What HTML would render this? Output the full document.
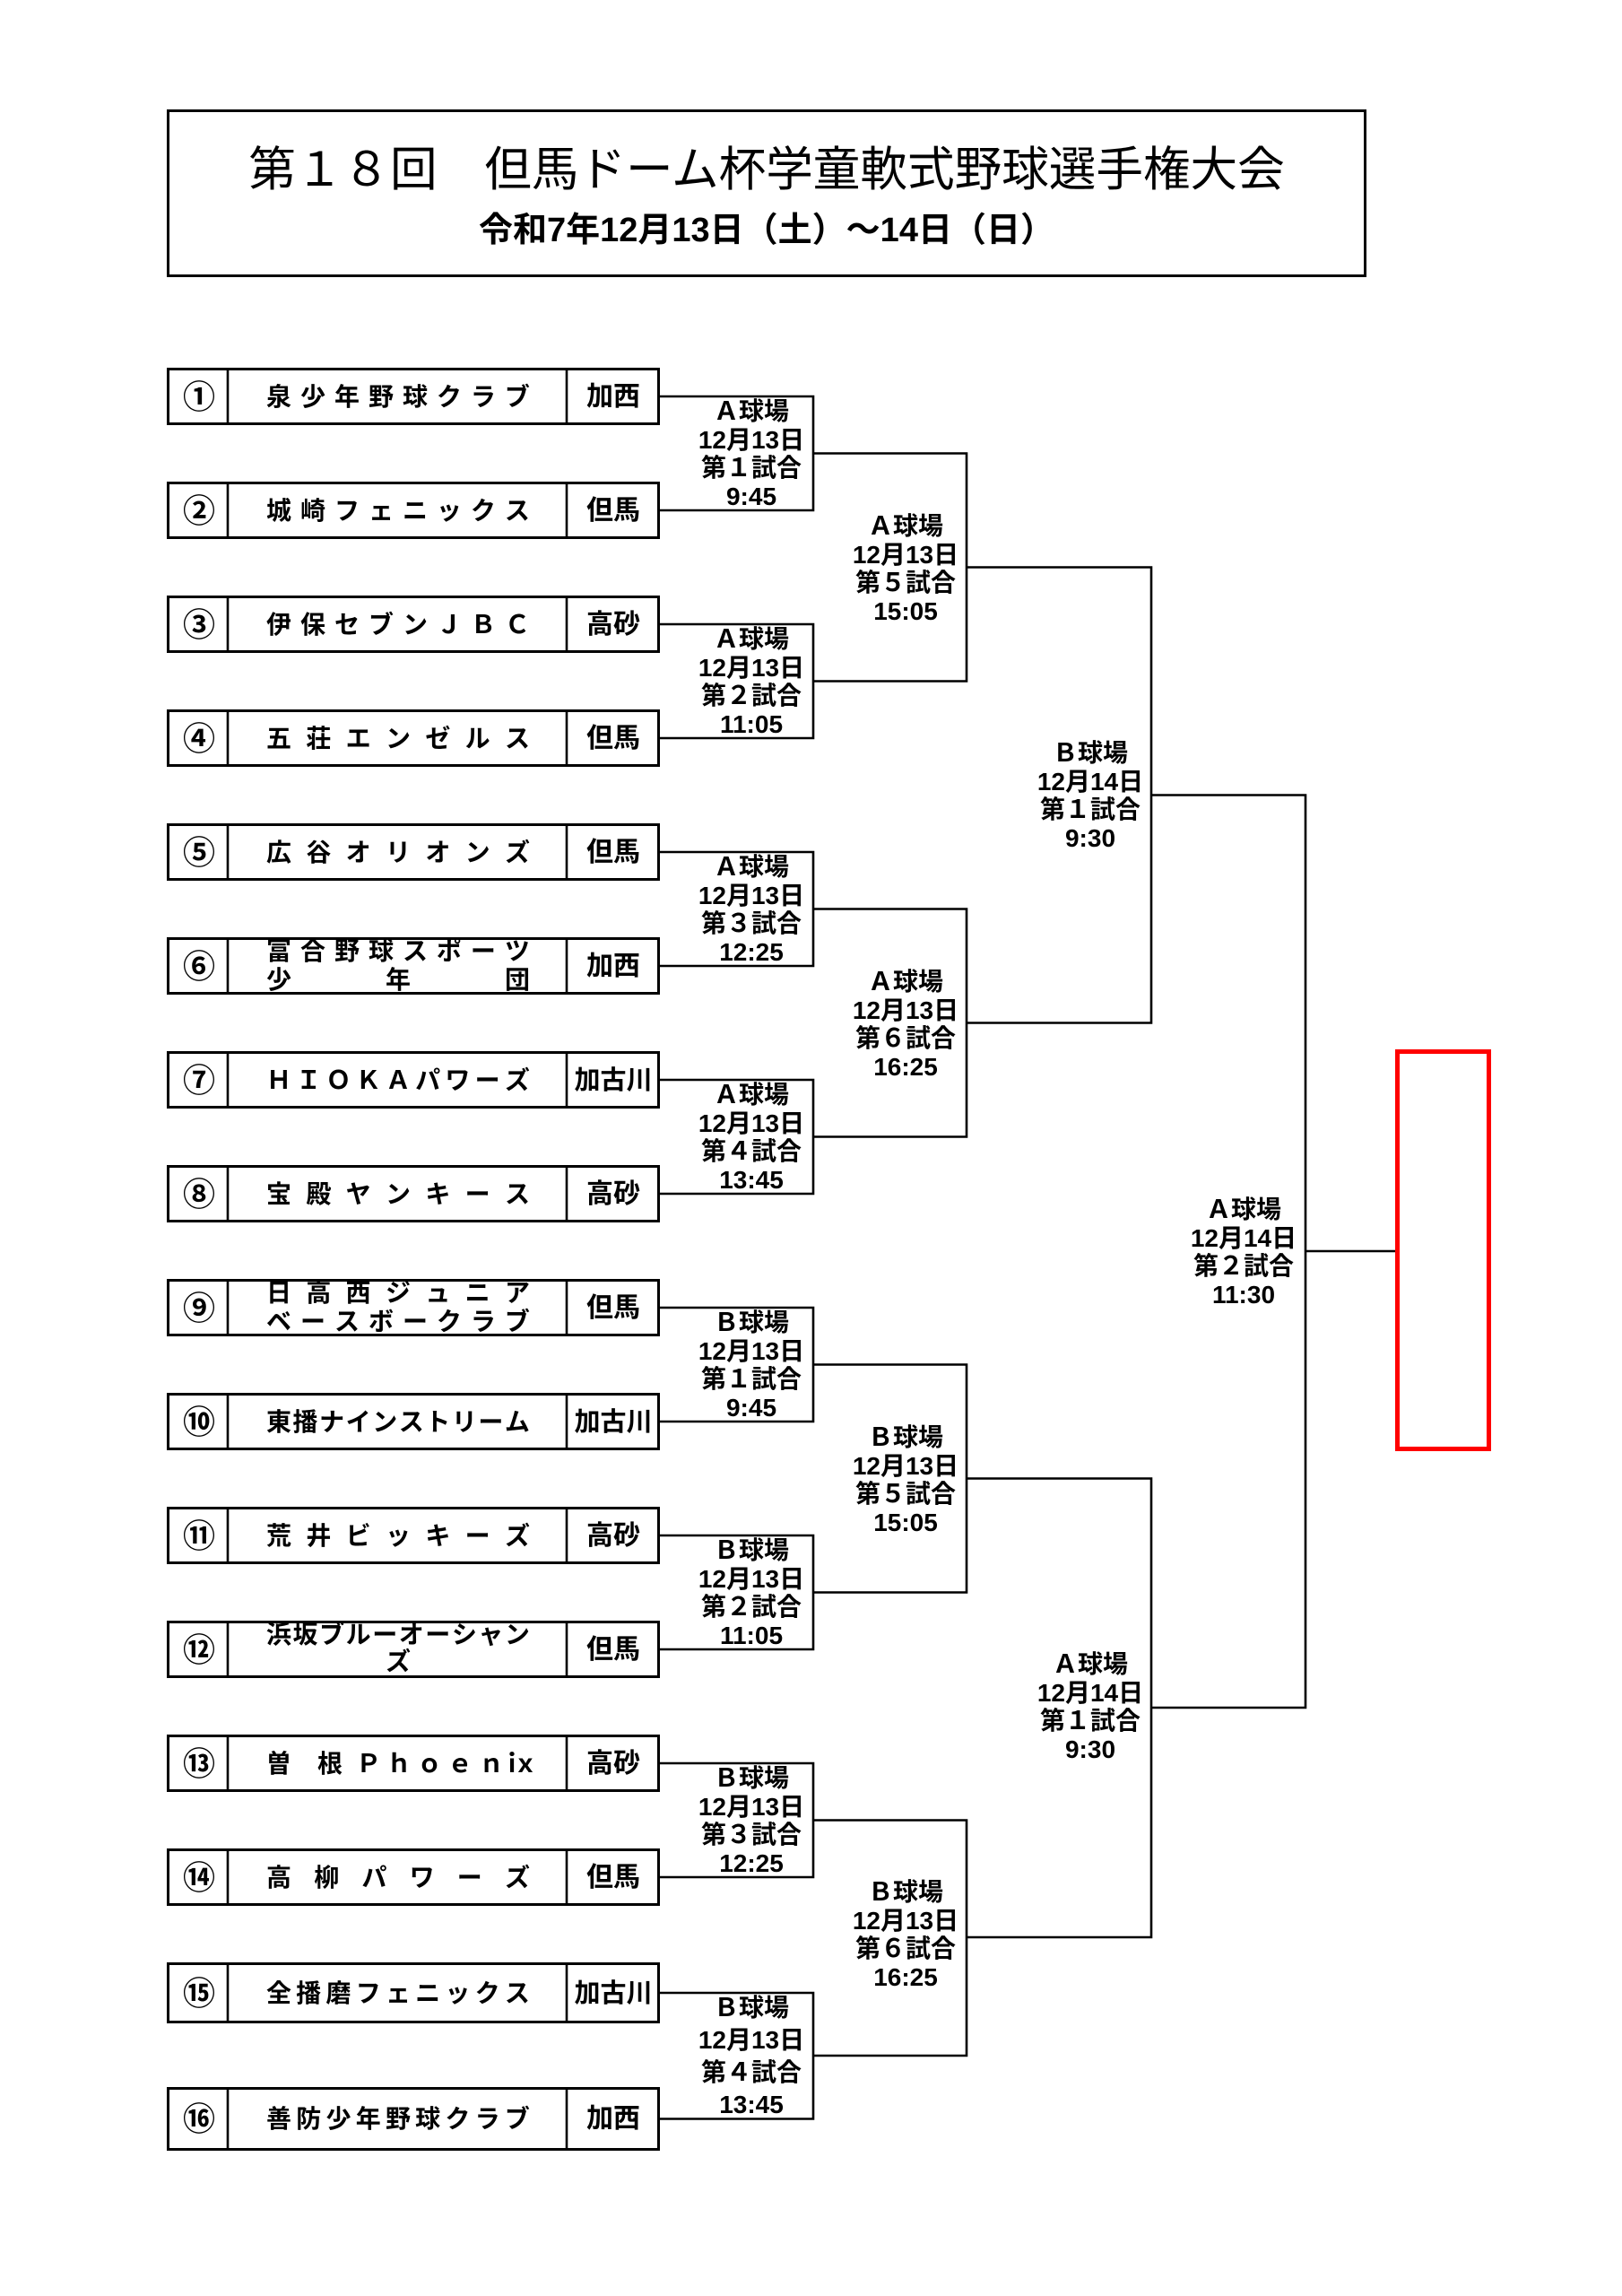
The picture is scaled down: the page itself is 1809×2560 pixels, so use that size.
<!DOCTYPE html>
<html lang="ja">
<head>
<meta charset="utf-8">
<style>
html,body{margin:0;padding:0;}
body{width:1809px;height:2560px;background:#fff;position:relative;overflow:hidden;font-family:"Liberation Sans","Noto Sans CJK JP",sans-serif;color:#000;}
svg{position:absolute;left:0;top:0;}
.n{position:absolute;left:297px;width:294px;height:32px;line-height:32px;display:flex;justify-content:space-between;font-size:28px;font-weight:bold;white-space:nowrap;}
.n span{display:block;}
.m{position:absolute;left:0;top:0;height:32px;line-height:32px;font-size:28px;font-weight:bold;}
.m span{position:absolute;width:28px;text-align:center;top:0;}
.c{position:absolute;left:186px;width:72px;text-align:center;font-size:36px;line-height:40px;font-weight:bold;font-family:"Noto Sans CJK JP",sans-serif;}
.r{position:absolute;left:632px;width:104px;text-align:center;font-size:30px;line-height:36px;font-weight:bold;white-space:nowrap;}
.r3{font-size:29px;}
.l{position:absolute;width:220px;text-align:center;font-size:28px;line-height:31.5px;font-weight:bold;white-space:nowrap;}
.t1{position:absolute;left:186px;width:1338px;top:160px;text-align:center;font-size:52.6px;line-height:60px;white-space:nowrap;}
.t2{position:absolute;left:186px;width:1338px;top:235px;text-align:center;font-size:38px;line-height:44px;font-weight:bold;white-space:nowrap;}
</style>
</head>
<body>
<svg width="1809" height="2560" viewBox="0 0 1809 2560">
  <g fill="none" stroke="#000">
    <rect x="187.5" y="123.5" width="1335" height="184" stroke-width="3"/>
    <g stroke-width="3">
      <rect x="187.5" y="411.5" width="547" height="61"/>
      <rect x="187.5" y="538.5" width="547" height="61"/>
      <rect x="187.5" y="665.5" width="547" height="61"/>
      <rect x="187.5" y="792.5" width="547" height="61"/>
      <rect x="187.5" y="919.5" width="547" height="61"/>
      <rect x="187.5" y="1046.5" width="547" height="61"/>
      <rect x="187.5" y="1173.5" width="547" height="61"/>
      <rect x="187.5" y="1300.5" width="547" height="61"/>
      <rect x="187.5" y="1427.5" width="547" height="61"/>
      <rect x="187.5" y="1554.5" width="547" height="61"/>
      <rect x="187.5" y="1681.5" width="547" height="61"/>
      <rect x="187.5" y="1808.5" width="547" height="61"/>
      <rect x="187.5" y="1935.5" width="547" height="61"/>
      <rect x="187.5" y="2062.5" width="547" height="61"/>
      <rect x="187.5" y="2189.5" width="547" height="65"/>
      <rect x="187.5" y="2328.5" width="547" height="68"/>
    </g>
    <g stroke-width="2.6">
      <path d="M254 410V474M632 410V474M254 537V601M632 537V601M254 664V728M632 664V728M254 791V855M632 791V855M254 918V982M632 918V982M254 1045V1109M632 1045V1109M254 1172V1236M632 1172V1236M254 1299V1363M632 1299V1363M254 1426V1490M632 1426V1490M254 1553V1617M632 1553V1617M254 1680V1744M632 1680V1744M254 1807V1871M632 1807V1871M254 1934V1998M632 1934V1998M254 2061V2125M632 2061V2125M254 2188V2256M632 2188V2256M254 2327V2398M632 2327V2398"/>
    </g>
    <g stroke-width="2.6">
      <path d="M736 442H907V569H736"/>
      <path d="M736 696H907V823H736"/>
      <path d="M736 950H907V1077H736"/>
      <path d="M736 1204H907V1331H736"/>
      <path d="M736 1458H907V1585H736"/>
      <path d="M736 1712H907V1839H736"/>
      <path d="M736 1966H907V2093H736"/>
      <path d="M736 2222H907V2362.5H736"/>
      <path d="M907 505.5H1078V759.5H907"/>
      <path d="M907 1013.5H1078V1267.5H907"/>
      <path d="M907 1521.5H1078V1775.5H907"/>
      <path d="M907 2029.5H1078V2292H907"/>
      <path d="M1078 632.5H1284V1140.5H1078"/>
      <path d="M1078 1648.5H1284V2160H1078"/>
      <path d="M1284 886.5H1456V1904H1284"/>
      <path d="M1456 1395H1556"/>
    </g>
  </g>
  <rect x="1558.5" y="1172.5" width="102" height="443" fill="none" stroke="#f00" stroke-width="5"/>
</svg>

<div class="t1">第１８回　但馬ドーム杯学童軟式野球選手権大会</div>
<div class="t2">令和7年12月13日（土）～14日（日）</div>

<div class="c" style="top:420px">①</div>
<div class="c" style="top:547px">②</div>
<div class="c" style="top:674px">③</div>
<div class="c" style="top:801px">④</div>
<div class="c" style="top:928px">⑤</div>
<div class="c" style="top:1055px">⑥</div>
<div class="c" style="top:1182px">⑦</div>
<div class="c" style="top:1309px">⑧</div>
<div class="c" style="top:1436px">⑨</div>
<div class="c" style="top:1563px">⑩</div>
<div class="c" style="top:1690px">⑪</div>
<div class="c" style="top:1817px">⑫</div>
<div class="c" style="top:1944px">⑬</div>
<div class="c" style="top:2071px">⑭</div>
<div class="c" style="top:2200px">⑮</div>
<div class="c" style="top:2340px">⑯</div>

<div class="r" style="top:425px">加西</div>
<div class="r" style="top:552px">但馬</div>
<div class="r" style="top:679px">高砂</div>
<div class="r" style="top:806px">但馬</div>
<div class="r" style="top:933px">但馬</div>
<div class="r" style="top:1060px">加西</div>
<div class="r r3" style="top:1187px">加古川</div>
<div class="r" style="top:1314px">高砂</div>
<div class="r" style="top:1441px">但馬</div>
<div class="r r3" style="top:1568px">加古川</div>
<div class="r" style="top:1695px">高砂</div>
<div class="r" style="top:1822px">但馬</div>
<div class="r" style="top:1949px">高砂</div>
<div class="r" style="top:2076px">但馬</div>
<div class="r r3" style="top:2205px">加古川</div>
<div class="r" style="top:2345px">加西</div>

<div class="n" style="top:427px"><span>泉</span><span>少</span><span>年</span><span>野</span><span>球</span><span>ク</span><span>ラ</span><span>ブ</span></div>
<div class="n" style="top:554px"><span>城</span><span>崎</span><span>フ</span><span>ェ</span><span>ニ</span><span>ッ</span><span>ク</span><span>ス</span></div>
<div class="n" style="top:681px"><span>伊</span><span>保</span><span>セ</span><span>ブ</span><span>ン</span><span>Ｊ</span><span>Ｂ</span><span>Ｃ</span></div>
<div class="n" style="top:808px"><span>五</span><span>荘</span><span>エ</span><span>ン</span><span>ゼ</span><span>ル</span><span>ス</span></div>
<div class="n" style="top:935px"><span>広</span><span>谷</span><span>オ</span><span>リ</span><span>オ</span><span>ン</span><span>ズ</span></div>
<div class="n" style="top:1045px"><span>富</span><span>合</span><span>野</span><span>球</span><span>ス</span><span>ポ</span><span>ー</span><span>ツ</span></div>
<div class="n" style="top:1077px"><span>少</span><span>年</span><span>団</span></div>
<div class="n" style="top:1189px"><span>Ｈ</span><span>Ｉ</span><span>Ｏ</span><span>Ｋ</span><span>Ａ</span><span>パ</span><span>ワ</span><span>ー</span><span>ズ</span></div>
<div class="n" style="top:1316px"><span>宝</span><span>殿</span><span>ヤ</span><span>ン</span><span>キ</span><span>ー</span><span>ス</span></div>
<div class="n" style="top:1426px"><span>日</span><span>高</span><span>西</span><span>ジ</span><span>ュ</span><span>ニ</span><span>ア</span></div>
<div class="n" style="top:1458px"><span>ベ</span><span>ー</span><span>ス</span><span>ボ</span><span>ー</span><span>ク</span><span>ラ</span><span>ブ</span></div>
<div class="n" style="top:1570px"><span>東</span><span>播</span><span>ナ</span><span>イ</span><span>ン</span><span>ス</span><span>ト</span><span>リ</span><span>ー</span><span>ム</span></div>
<div class="n" style="top:1697px"><span>荒</span><span>井</span><span>ビ</span><span>ッ</span><span>キ</span><span>ー</span><span>ズ</span></div>
<div class="n" style="top:1807px"><span>浜</span><span>坂</span><span>ブ</span><span>ル</span><span>ー</span><span>オ</span><span>ー</span><span>シ</span><span>ャ</span><span>ン</span></div>
<div class="n" style="top:1837px;justify-content:center"><span>ズ</span></div>
<div class="m" style="top:1951px">
  <span style="left:297px">曽</span><span style="left:354px">根</span><span style="left:397px">Ｐ</span><span style="left:431px">ｈ</span><span style="left:465px">ｏ</span><span style="left:499px">ｅ</span><span style="left:534px">ｎ</span><span style="left:557px">ｉ</span><span style="left:572px">ｘ</span>
</div>
<div class="n" style="top:2078px"><span>高</span><span>柳</span><span>パ</span><span>ワ</span><span>ー</span><span>ズ</span></div>
<div class="n" style="top:2207px"><span>全</span><span>播</span><span>磨</span><span>フ</span><span>ェ</span><span>ニ</span><span>ッ</span><span>ク</span><span>ス</span></div>
<div class="n" style="top:2347px"><span>善</span><span>防</span><span>少</span><span>年</span><span>野</span><span>球</span><span>ク</span><span>ラ</span><span>ブ</span></div>

<div class="l" style="left:728px;top:443px">Ａ球場<br>12月13日<br>第１試合<br>9:45</div>
<div class="l" style="left:728px;top:697px">Ａ球場<br>12月13日<br>第２試合<br>11:05</div>
<div class="l" style="left:728px;top:951px">Ａ球場<br>12月13日<br>第３試合<br>12:25</div>
<div class="l" style="left:728px;top:1205px">Ａ球場<br>12月13日<br>第４試合<br>13:45</div>
<div class="l" style="left:728px;top:1459px">Ｂ球場<br>12月13日<br>第１試合<br>9:45</div>
<div class="l" style="left:728px;top:1713px">Ｂ球場<br>12月13日<br>第２試合<br>11:05</div>
<div class="l" style="left:728px;top:1967px">Ｂ球場<br>12月13日<br>第３試合<br>12:25</div>
<div class="l" style="left:728px;top:2221px;line-height:36px">Ｂ球場<br>12月13日<br>第４試合<br>13:45</div>

<div class="l" style="left:900px;top:571px">Ａ球場<br>12月13日<br>第５試合<br>15:05</div>
<div class="l" style="left:900px;top:1079px">Ａ球場<br>12月13日<br>第６試合<br>16:25</div>
<div class="l" style="left:900px;top:1587px">Ｂ球場<br>12月13日<br>第５試合<br>15:05</div>
<div class="l" style="left:900px;top:2094px">Ｂ球場<br>12月13日<br>第６試合<br>16:25</div>

<div class="l" style="left:1106px;top:824px">Ｂ球場<br>12月14日<br>第１試合<br>9:30</div>
<div class="l" style="left:1106px;top:1840px">Ａ球場<br>12月14日<br>第１試合<br>9:30</div>

<div class="l" style="left:1277px;top:1333px">Ａ球場<br>12月14日<br>第２試合<br>11:30</div>
</body>
</html>
